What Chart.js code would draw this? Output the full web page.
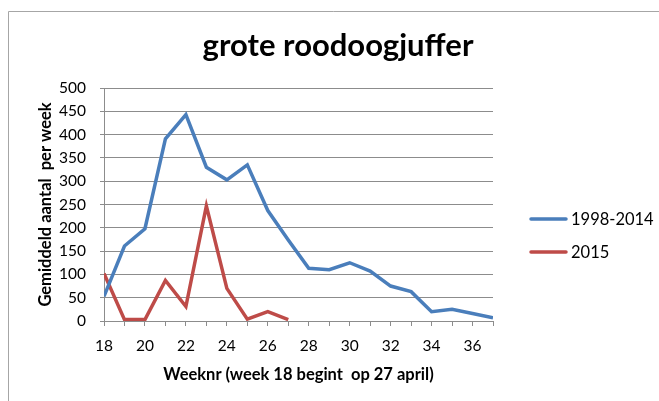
<!DOCTYPE html>
<html>
<head>
<meta charset="utf-8">
<script src="https://cdn.jsdelivr.net/npm/chart.js@4/dist/chart.umd.min.js"></script>
<style>
  html, body { margin: 0; padding: 0; background: #ffffff; }
  #wrap { position: relative; width: 659px; height: 401px; }
</style>
</head>
<body>
<div id="wrap"><canvas id="c" width="659" height="401"></canvas></div>
<script>
// ---- data ----
const chartTitle = 'grote roodoogjuffer';
const xAxisTitle = 'Weeknr (week 18 begint  op 27 april)';
const yAxisTitle = 'Gemiddeld aantal  per week';
const seriesNames = ['1998-2014', '2015'];
const weeksA = [18, 19, 20, 21, 22, 23, 24, 25, 26, 27, 28, 29, 30, 31, 32, 33, 34, 35, 36, 37];
const valuesA = [53, 161, 198, 391, 443, 330, 303, 335, 237, 174, 113, 110, 125, 107, 75, 63, 20, 25, 16, 7];
const weeksB = [18, 19, 20, 21, 22, 23, 24, 25, 26, 27];
const valuesB = [102, 3, 3, 87, 31, 247, 70, 4, 20, 3];
const xMin = 18, xMax = 37, xLabelStep = 2;
const yMin = 0, yMax = 500, yStep = 50;
const seriesColors = ['#4A7EBB', '#BE4B48'];

const FONT = 'Lato, "Liberation Sans", sans-serif';
const gridColor = '#8c8c8c';

const toPoints = (xs, ys) => xs.map((x, i) => ({ x: x, y: ys[i] }));

const frameAndTitle = {
  id: 'frameAndTitle',
  beforeDraw(chart) {
    const ctx = chart.ctx;
    ctx.save();
    ctx.strokeStyle = '#a6a6a6';
    ctx.lineWidth = 1;
    ctx.beginPath();
    ctx.moveTo(8.5, 401);
    ctx.lineTo(8.5, 11.5);
    ctx.lineTo(659, 11.5);
    ctx.stroke();
    ctx.fillStyle = '#000';
    ctx.font = 'bold 31px ' + FONT;
    ctx.textAlign = 'center';
    ctx.textBaseline = 'alphabetic';
    ctx.fillText(chartTitle, 338, 56);
    ctx.restore();
  }
};

const customLegend = {
  id: 'customLegend',
  afterDraw(chart) {
    const ctx = chart.ctx;
    ctx.save();
    chart.data.datasets.forEach((ds, i) => {
      const y = 219 + i * 33;
      ctx.strokeStyle = ds.borderColor;
      ctx.lineWidth = 3.5;
      ctx.lineCap = 'round';
      ctx.beginPath();
      ctx.moveTo(531, y);
      ctx.lineTo(566, y);
      ctx.stroke();
      ctx.fillStyle = '#000';
      ctx.font = '16.5px ' + FONT;
      ctx.textBaseline = 'middle';
      ctx.textAlign = 'left';
      ctx.fillText(ds.label, 571, y + 1);
    });
    ctx.restore();
  }
};

new Chart(document.getElementById('c'), {
  type: 'line',
  data: {
    datasets: [
      { label: seriesNames[0], data: toPoints(weeksA, valuesA), borderColor: seriesColors[0], backgroundColor: seriesColors[0], borderWidth: 3.5, pointRadius: 0, tension: 0, fill: false },
      { label: seriesNames[1], data: toPoints(weeksB, valuesB), borderColor: seriesColors[1], backgroundColor: seriesColors[1], borderWidth: 3.5, pointRadius: 0, tension: 0, fill: false }
    ]
  },
  options: {
    responsive: false,
    animation: false,
    devicePixelRatio: 1,
    layout: { padding: { left: 34, right: 166, top: 88, bottom: 0 } },
    plugins: {
      legend: { display: false },
      tooltip: { enabled: false },
      title: { display: false }
    },
    scales: {
      x: {
        type: 'linear',
        min: xMin,
        max: xMax,
        afterFit(scale) { scale.height = 80; },
        ticks: {
          stepSize: 1,
          autoSkip: false,
          maxRotation: 0,
          color: '#000',
          font: { family: FONT, size: 15.5 },
          padding: 11,
          callback: (v) => ((v - xMin) % xLabelStep === 0 ? String(v) : '')
        },
        grid: { display: true, drawOnChartArea: false, drawTicks: true, tickLength: 5, color: gridColor },
        border: { display: true, color: gridColor },
        title: { display: true, text: xAxisTitle, color: '#000', font: { family: FONT, size: 16.5, weight: 'bold' }, padding: { top: 4, bottom: 16 } }
      },
      y: {
        min: yMin,
        max: yMax,
        afterFit(scale) { scale.width = 70; },
        ticks: { stepSize: yStep, color: '#000', font: { family: FONT, size: 15.5 }, padding: 14 },
        grid: { color: gridColor, tickLength: 4, drawTicks: true },
        border: { display: true, color: gridColor },
        title: { display: true, text: yAxisTitle, color: '#000', font: { family: FONT, size: 16.5, weight: 'bold' }, padding: { top: 2, bottom: 0 } }
      }
    }
  },
  plugins: [frameAndTitle, customLegend]
});
</script>
</body>
</html>
